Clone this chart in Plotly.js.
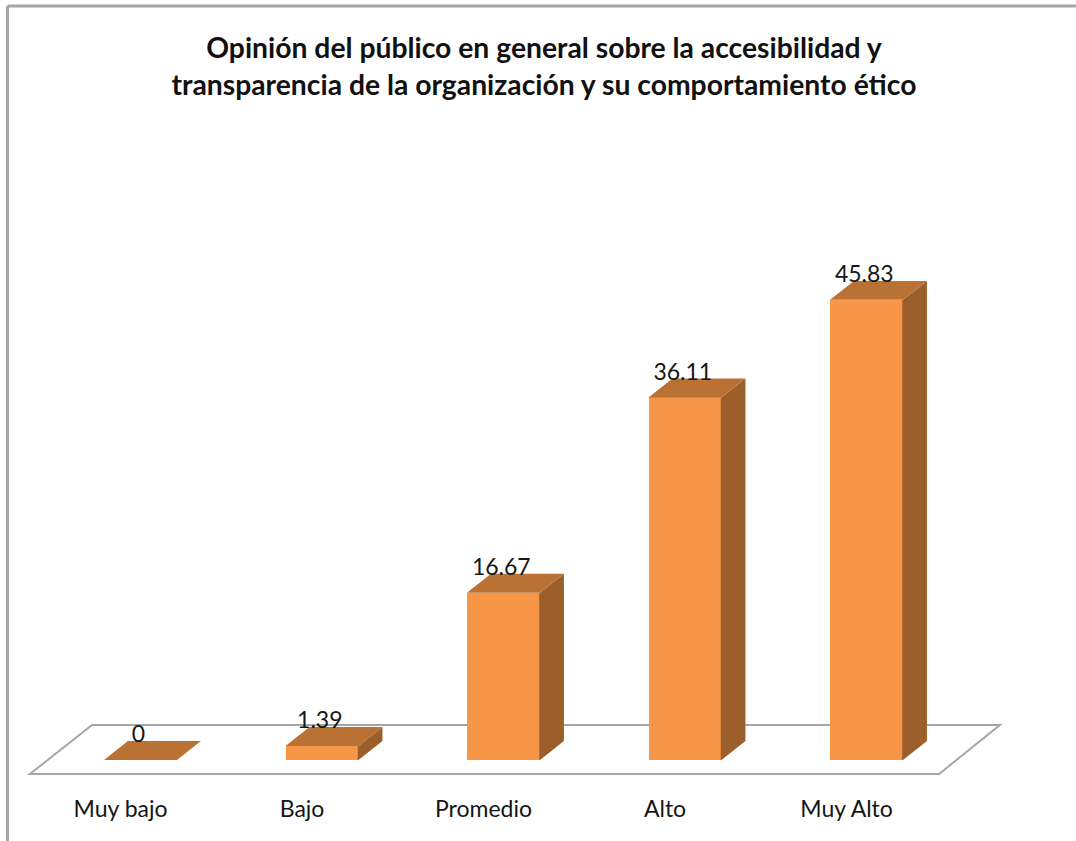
<!DOCTYPE html>
<html>
<head>
<meta charset="utf-8">
<script src="https://cdn.plot.ly/plotly-3.0.1.min.js"></script>
<style>html,body{margin:0;padding:0;background:#fff;overflow:hidden}</style>
</head>
<body>
<div id="chart" style="width:1076px;height:841px"></div>
<script>
const categories = ["Muy bajo", "Bajo", "Promedio", "Alto", "Muy Alto"];
const values = [0, 1.39, 16.67, 36.11, 45.83];
const titleLine1 = "Opinión del público en general sobre la accesibilidad y";
const titleLine2 = "transparencia de la organización y su comportamiento ético";

const frontColor = "#F79646";
const topColor = "#B97233";
const sideColor = "#9C5F2C";
const floorColor = "#A6A6A6";
const textColor = "#161616";
const fontFamily = "Lato, Carlito, sans-serif";

const barWidth = 0.402;
const depthX = 0.132;
const depthY = 1.89;
const labelLift = 2.35;
const labelShiftX = -0.012;
const tickShift = -0.11;
const seamOverlap = 0.004;

const idx = categories.map((_, i) => i);

function polygons(build) {
  const xs = [], ys = [];
  idx.forEach(i => {
    const pts = build(i, values[i]);
    if (!pts) return;
    pts.forEach(p => { xs.push(p[0]); ys.push(p[1]); });
    xs.push(pts[0][0]); ys.push(pts[0][1]);
    xs.push(null); ys.push(null);
  });
  return {xs, ys};
}
const hw = barWidth / 2;
const tops = polygons((i, v) => [
  [i - hw, v], [i + hw, v], [i + hw + depthX, v + depthY], [i - hw + depthX, v + depthY]
]);
const sides = polygons((i, v) => v > 0 ? [
  [i + hw - seamOverlap, 0], [i + hw, 0], [i + hw + depthX, depthY], [i + hw + depthX, v + depthY], [i + hw, v], [i + hw - seamOverlap, v]
] : null);

const traces = [
  {type: "scatter", mode: "lines", x: sides.xs, y: sides.ys, fill: "toself", fillcolor: sideColor,
   line: {width: 0, color: sideColor}, hoverinfo: "skip", showlegend: false},
  {type: "scatter", mode: "lines", x: tops.xs, y: tops.ys, fill: "toself", fillcolor: topColor,
   line: {width: 0, color: topColor}, hoverinfo: "skip", showlegend: false},
  {type: "bar", x: idx, y: values, width: barWidth, marker: {color: frontColor, line: {width: 0}},
   hoverinfo: "skip", showlegend: false},
  {type: "scatter", mode: "text", x: idx.map(i => i + labelShiftX), y: values.map(v => v + labelLift),
   text: values.map(String), textposition: "middle center",
   textfont: {family: fontFamily, size: 23, color: textColor}, hoverinfo: "skip", showlegend: false}
];

const layout = {
  width: 1076, height: 841,
  margin: {l: 0, r: 0, t: 0, b: 51, pad: 0},
  paper_bgcolor: "#fff", plot_bgcolor: "rgba(0,0,0,0)",
  showlegend: false, bargap: 0,
  title: {
    text: "<b>" + titleLine1 + "<br>" + titleLine2 + "</b>",
    font: {family: fontFamily, size: 28.3, color: "#111"},
    x: 544 / 1076, xanchor: "center", y: 0.931, yanchor: "top"
  },
  xaxis: {
    range: [-140.5 / 181.5, 935.5 / 181.5], fixedrange: true,
    tickmode: "array", tickvals: idx.map(i => i + tickShift), ticktext: categories,
    ticks: "", ticklabelstandoff: 3, showgrid: false, zeroline: false, showline: false,
    tickfont: {family: fontFamily, size: 23, color: textColor}
  },
  yaxis: {range: [-30 / 10.04, 760 / 10.04], fixedrange: true, visible: false},
  shapes: [
    {type: "path", layer: "below", xref: "x", yref: "y",
     path: "M -0.609 -1.39 L 4.40 -1.39 L 4.735 3.49 L -0.267 3.49 Z",
     line: {color: floorColor, width: 2}, fillcolor: "#fff"},
    {type: "line", layer: "below", xref: "paper", yref: "paper",
     x0: 7.5 / 1076, x1: 7.5 / 1076, y0: -0.1, y1: 1 - 6 / 790,
     line: {color: floorColor, width: 3}},
    {type: "line", layer: "below", xref: "paper", yref: "paper",
     x0: 7.5 / 1076, x1: 1, y0: 1 - 6 / 790, y1: 1 - 6 / 790,
     line: {color: floorColor, width: 3}}
  ]
};
Plotly.newPlot("chart", traces, layout, {displayModeBar: false, staticPlot: true});
</script>
</body>
</html>
